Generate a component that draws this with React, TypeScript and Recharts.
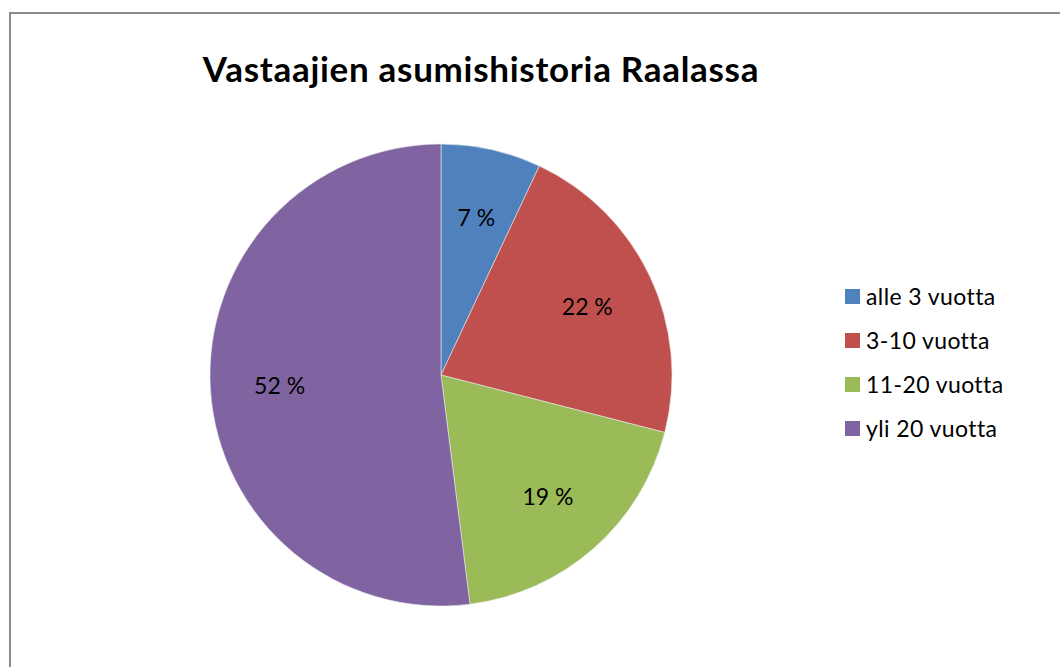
import React from "react";
import { PieChart, Pie, Cell } from "recharts";

const categories = ["alle 3 vuotta", "3-10 vuotta", "11-20 vuotta", "yli 20 vuotta"];
const shares = [7, 22, 19, 52];
const colors = ["#4F81BD", "#C0504D", "#9BBB59", "#8064A2"];
const title = "Vastaajien asumishistoria Raalassa";

const data = categories.map((name, i) => ({ name, value: shares[i] }));

const FONT = "Lato, 'Open Sans', sans-serif";
const RAD = Math.PI / 180;

const renderLabel = (props: any) => {
  const { cx, cy, midAngle, outerRadius, value } = props;
  const r = outerRadius * 0.7;
  const x = cx + r * Math.cos(-midAngle * RAD);
  const y = cy + r * Math.sin(-midAngle * RAD);
  return (
    <text x={x} y={y} fill="#000" textAnchor="middle" dominantBaseline="central" fontSize={23} fontFamily={FONT}>
      {`${value} %`}
    </text>
  );
};

export default function App() {
  return (
    <div style={{ position: "absolute", left: 0, top: 0, width: 1060, height: 667, overflow: "hidden", background: "#fff" }}>
      <div style={{ position: "absolute", left: 9, top: 12, width: 1100, height: 700, border: "2px solid #8a8a8a", boxSizing: "border-box" }} />
      <div style={{ position: "absolute", left: 0, width: 962, top: 47, textAlign: "center", fontFamily: FONT, fontWeight: 700, fontSize: 35, color: "#000", letterSpacing: 0.7 }}>
        {title}
      </div>
      <div style={{ position: "absolute", left: 0, top: 0 }}>
        <PieChart width={1060} height={667}>
          <Pie
            data={data}
            dataKey="value"
            nameKey="name"
            cx={436}
            cy={370}
            outerRadius={231}
            startAngle={90}
            endAngle={-270}
            stroke="#e8e8e8"
            strokeWidth={0.6}
            label={renderLabel}
            labelLine={false}
            isAnimationActive={false}
          >
            {data.map((_, i) => (
              <Cell key={i} fill={colors[i]} />
            ))}
          </Pie>
        </PieChart>
      </div>
      <div style={{ position: "absolute", left: 845, top: 274, fontFamily: FONT, fontSize: 23, color: "#000", letterSpacing: 0.4 }}>
        {categories.map((name, i) => (
          <div key={i} style={{ display: "flex", alignItems: "center", height: 44 }}>
            <span style={{ display: "inline-block", width: 15, height: 15, background: colors[i], marginRight: 6 }} />
            <span>{name}</span>
          </div>
        ))}
      </div>
    </div>
  );
}
